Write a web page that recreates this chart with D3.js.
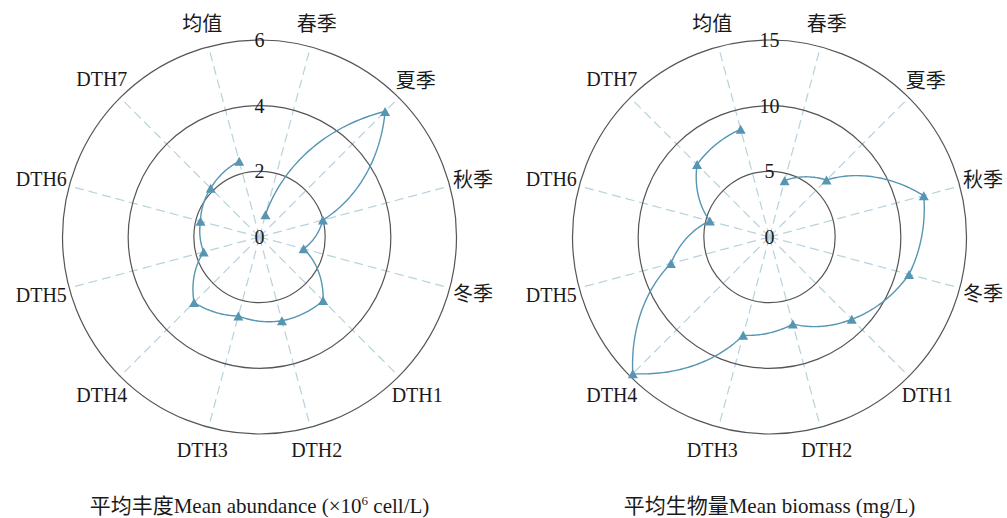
<!DOCTYPE html>
<html>
<head>
<meta charset="utf-8">
<script src="https://cdn.jsdelivr.net/npm/d3@7"></script>
<style>
  html, body { margin: 0; padding: 0; background: #fff; }
  svg { display: block; }
  text { font-family: "Liberation Serif", "Noto Sans CJK SC", serif; fill: #1a1a1a; }
</style>
</head>
<body>
<svg id="chart" width="1007" height="518"></svg>
<script>
// Sampling sites / seasons around the polar axis (clockwise from 12 o'clock)
const categories = ["春季", "夏季", "秋季", "冬季", "DTH1", "DTH2", "DTH3", "DTH4", "DTH5", "DTH6", "DTH7", "均值"];

// Mean abundance (×10^6 cell/L)
const abundance = [0.70, 5.41, 2.00, 1.39, 2.74, 2.64, 2.49, 2.82, 1.76, 1.86, 2.10, 2.39];
// Mean biomass (mg/L)
const biomass = [4.44, 6.14, 12.16, 11.00, 8.86, 6.86, 7.75, 14.72, 7.77, 4.70, 7.80, 8.49];

const abundanceTicks = [0, 2, 4, 6];
const biomassTicks = [0, 5, 10, 15];

const svg = d3.select("#chart");
svg.append("rect").attr("width", 1007).attr("height", 518).attr("fill", "#fff");

const R = 197;
const lineColor = "#5696b2";

// angle for each category, at the middle of each 30° sector
const angle = d3.scalePoint().domain(categories).range([0, 2 * Math.PI]).padding(0.5);

// Curve that joins consecutive points with r varying linearly in angle
// (straight segments in polar data space, drawn as spiral arcs)
function curvePolarLinear(context) {
  let prev = null;
  return {
    areaStart() {}, areaEnd() {},
    lineStart() { prev = null; },
    lineEnd() {},
    point(x, y) {
      x = +x; y = +y;
      const r = Math.hypot(x, y), a = Math.atan2(x, -y);
      if (!prev) {
        context.moveTo(x, y);
      } else {
        let da = a - prev.a;
        if (da > Math.PI) da -= 2 * Math.PI;
        if (da < -Math.PI) da += 2 * Math.PI;
        const n = 40;
        for (let i = 1; i <= n; i++) {
          const t = i / n, ai = prev.a + da * t, ri = prev.r + (r - prev.r) * t;
          context.lineTo(ri * Math.sin(ai), -ri * Math.cos(ai));
        }
      }
      prev = { r, a };
    }
  };
}

// upward triangle centred on its bounding box
const triangleUp = {
  draw(ctx, size) {
    const s = Math.sqrt(size) / 2;
    ctx.moveTo(0, -s * 0.9);
    ctx.lineTo(s, s * 0.9);
    ctx.lineTo(-s, s * 0.9);
    ctx.closePath();
  }
};

function drawPanel(cx, cy, values, ticks, titleFn) {
  const radius = d3.scaleLinear().domain([0, d3.max(ticks)]).range([0, R]);
  const g = svg.append("g").attr("transform", `translate(${cx},${cy})`);

  // dashed spokes
  g.append("g").selectAll("line").data(categories).join("line")
    .attr("x1", 0).attr("y1", 0)
    .attr("x2", d => R * Math.sin(angle(d)))
    .attr("y2", d => -R * Math.cos(angle(d)))
    .attr("stroke", "#b7d2dc").attr("stroke-width", 1.2)
    .attr("stroke-dasharray", "9,5");

  // radial grid circles
  g.append("g").selectAll("circle").data(ticks.filter(t => t > 0)).join("circle")
    .attr("r", d => radius(d))
    .attr("fill", "none").attr("stroke", "#555").attr("stroke-width", 1.2);

  // data line
  const line = d3.lineRadial()
    .angle((d, i) => angle(categories[i]))
    .radius(d => radius(d))
    .curve(curvePolarLinear);
  g.append("path").datum(values)
    .attr("d", line)
    .attr("fill", "none").attr("stroke", lineColor).attr("stroke-width", 1.4);

  // markers
  g.append("g").selectAll("path").data(values).join("path")
    .attr("d", d3.symbol().type(triangleUp).size(100))
    .attr("transform", (d, i) => {
      const a = angle(categories[i]), r = radius(d);
      return `translate(${r * Math.sin(a)},${-r * Math.cos(a)})`;
    })
    .attr("fill", lineColor);

  // radial tick labels along 12 o'clock
  g.append("g").selectAll("text").data(ticks).join("text")
    .attr("x", 0).attr("y", d => -radius(d))
    .attr("text-anchor", "middle").attr("dominant-baseline", "central")
    .attr("font-size", 20)
    .text(d => d);

  // category labels just outside the outer circle
  g.append("g").selectAll("text").data(categories).join("text")
    .attr("text-anchor", "middle").attr("dominant-baseline", "central")
    .attr("font-size", 20)
    .text(d => d)
    .each(function (d) {
      const a = angle(d);
      const w = this.getComputedTextLength();
      const rc = Math.max(R + 24, R + 2 + (w / 2) * Math.abs(Math.sin(a)) + 8.5 * Math.abs(Math.cos(a)));
      d3.select(this).attr("x", rc * Math.sin(a)).attr("y", -rc * Math.cos(a));
    });

  // axis title under the panel
  const t = svg.append("text")
    .attr("x", cx).attr("y", 513)
    .attr("text-anchor", "middle").attr("font-size", 21);
  titleFn(t);
}

drawPanel(259.5, 237, abundance, abundanceTicks, t => {
  t.append("tspan").text("平均丰度Mean abundance (×10");
  t.append("tspan").attr("dy", -8).attr("font-size", 13).text("6");
  t.append("tspan").attr("dy", 8).text(" cell/L)");
});

drawPanel(769.5, 237, biomass, biomassTicks, t => {
  t.text("平均生物量Mean biomass (mg/L)");
});
</script>
</body>
</html>
